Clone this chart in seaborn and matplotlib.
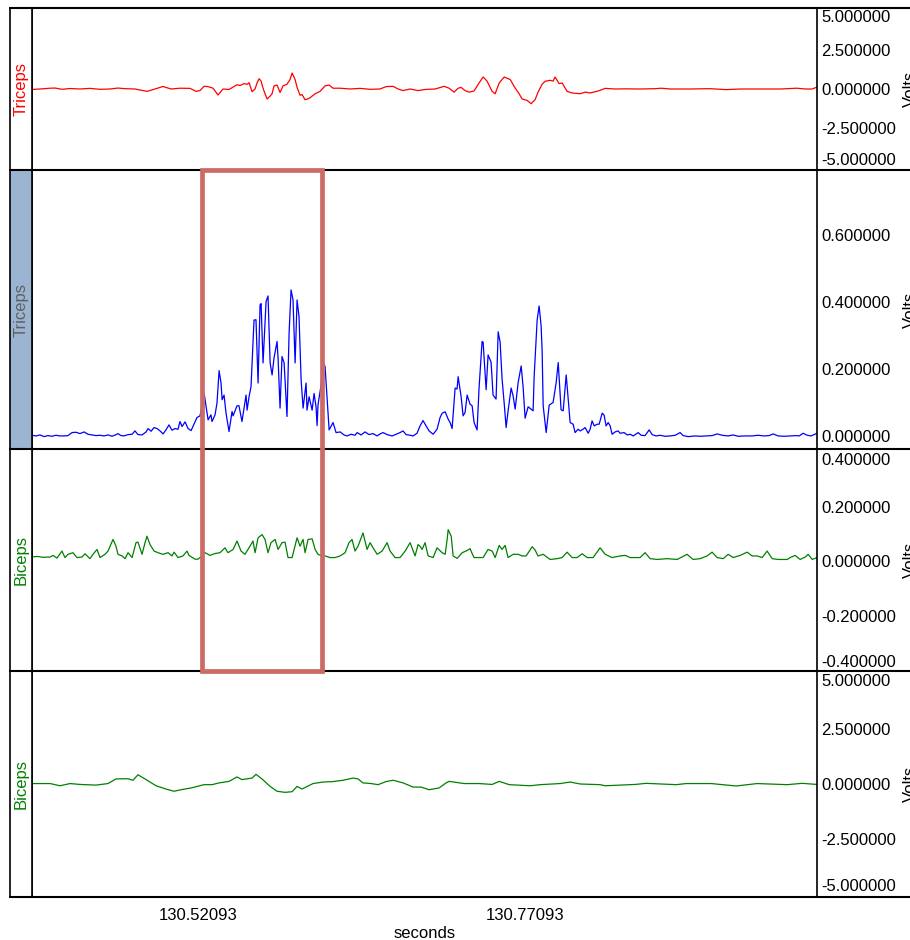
"""plot.py - four-channel EMG view (raw / envelope) with highlighted burst window"""
import pandas as pd
import seaborn as sns
import matplotlib.pyplot as plt
from matplotlib.lines import Line2D
from matplotlib.patches import Rectangle

# time window shown (seconds); samples below are ms offsets from T0
T0 = 130.39402
WINDOW = 0.6
x_ticks = [130.52093, 130.77093]
highlight_ms = [129.6, 221.3]

channel_names = ["Triceps", "Triceps", "Biceps", "Biceps"]

# (ms, volts) samples
triceps_raw = [
    (0.0, -0.03), (6.1, 0.0), (13.8, 0.05), (17.6, 0.06), (22.9, -0.02), (29.1, 0.03),
    (36.7, 0.0), (44.3, 0.04), (52.0, -0.02), (59.6, 0.0), (65.7, 0.06), (71.1, 0.02),
    (78.7, 0.0), (87.9, -0.15), (94.0, 0.0), (100.1, 0.16), (106.3, 0.0), (113.1, 0.05),
    (120.8, 0.04), (125.4, -0.15), (128.4, -0.10), (131.5, 0.17), (134.6, 0.15), (138.4, 0.05),
    (142.2, -0.38), (146.0, 0.0), (150.6, -0.03), (153.7, 0.12), (156.7, 0.27), (159.0, 0.22),
    (162.1, 0.34), (164.4, 0.30), (165.9, 0.40), (168.2, -0.17), (170.5, 0.0), (172.0, 0.38),
    (173.6, 0.65), (175.1, 0.50), (176.6, 0.05), (178.1, -0.30), (179.7, -0.63), (182.0, -0.45),
    (183.5, -0.30), (185.0, 0.20), (187.3, 0.25), (189.6, -0.22), (191.9, 0.20), (194.9, 0.30),
    (197.2, 0.60), (198.8, 1.01), (201.1, 0.60), (202.6, 0.10), (204.9, -0.40), (206.4, -0.35),
    (208.7, -0.68), (211.0, -0.62), (212.6, -0.55), (216.4, -0.30), (220.2, -0.15), (224.0, 0.20),
    (227.1, 0.25), (230.1, 0.05), (235.5, 0.05), (243.1, 0.0), (250.8, 0.04), (258.4, -0.02),
    (266.0, 0.0), (270.6, 0.15), (276.0, 0.17), (279.8, 0.0), (283.6, -0.10), (289.0, 0.0),
    (295.1, -0.10), (300.4, -0.03), (308.1, 0.0), (315.0, 0.17), (318.8, 0.05), (322.6, -0.20),
    (325.7, 0.05), (328.0, 0.10), (331.0, -0.10), (334.1, -0.20), (337.9, -0.12), (341.7, 0.38),
    (344.8, 0.76), (347.8, 0.50), (351.7, -0.15), (354.0, -0.30), (357.1, 0.38), (360.9, 0.76),
    (365.5, 0.60), (369.3, 0.06), (372.3, -0.30), (374.6, -0.63), (378.4, -0.72), (381.5, -0.93),
    (384.5, -0.68), (386.8, -0.20), (389.9, 0.30), (392.2, 0.49), (396.0, 0.55), (398.3, 0.50),
    (399.8, 0.76), (402.9, 0.34), (405.2, 0.38), (409.0, -0.15), (412.8, -0.25), (418.9, -0.30),
    (422.8, -0.20), (426.6, -0.25), (432.7, -0.13), (438.1, 0.04), (445.7, 0.0), (453.3, 0.01),
    (464.8, 0.0), (476.3, 0.02), (480.9, 0.05), (487.8, 0.0), (503.0, 0.0), (518.3, 0.02),
    (530.6, -0.04), (541.3, 0.0), (556.6, 0.0), (571.8, 0.0), (584.8, 0.05), (591.0, 0.0),
    (596.3, 0.0), (600.0, 0.12),
]

triceps_env = [
    (0.0, 0.002), (3.1, 0.0), (6.1, 0.003), (9.2, -0.002), (12.2, 0.001), (15.3, -0.001),
    (18.3, 0.002), (21.4, 0.0), (24.5, 0.0), (27.5, 0.001), (30.6, 0.010), (33.6, 0.011),
    (36.7, 0.007), (39.8, 0.012), (42.8, 0.005), (45.9, 0.003), (48.9, 0.001), (52.0, 0.002),
    (55.0, 0.0), (58.1, 0.003), (61.2, -0.001), (64.2, 0.004), (65.7, 0.007), (68.0, 0.001),
    (70.3, 0.0), (73.4, 0.004), (76.5, 0.005), (78.7, 0.015), (81.0, 0.004), (84.1, 0.003),
    (87.2, 0.012), (88.7, 0.022), (91.0, 0.014), (93.3, 0.025), (95.6, 0.022), (97.9, 0.015),
    (100.2, 0.006), (102.4, 0.018), (104.7, 0.033), (107.0, 0.017), (109.3, 0.022), (111.6, 0.020),
    (113.1, 0.043), (114.7, 0.028), (117.0, 0.042), (119.3, 0.022), (121.6, 0.016), (123.8, 0.035),
    (126.1, 0.055), (128.4, 0.060), (130.0, 0.090), (131.5, 0.128), (133.0, 0.090), (133.8, 0.068),
    (134.6, 0.048), (136.8, 0.063), (137.6, 0.043), (139.9, 0.063), (141.4, 0.098), (143.0, 0.195),
    (144.5, 0.158), (145.3, 0.108), (146.8, 0.122), (148.3, 0.068), (150.6, 0.013), (152.9, 0.073),
    (153.7, 0.060), (156.7, 0.090), (158.2, 0.090), (160.5, 0.043), (162.1, 0.083), (163.6, 0.122),
    (164.4, 0.077), (165.9, 0.117), (167.4, 0.147), (169.7, 0.346), (171.2, 0.347), (172.8, 0.158),
    (174.3, 0.391), (175.1, 0.395), (176.6, 0.218), (178.9, 0.401), (180.4, 0.418), (182.0, 0.218),
    (183.5, 0.182), (185.0, 0.233), (187.3, 0.282), (188.1, 0.230), (189.6, 0.083), (191.1, 0.237),
    (192.7, 0.218), (194.9, 0.058), (196.5, 0.307), (198.0, 0.436), (199.5, 0.406), (201.1, 0.218),
    (202.6, 0.406), (204.1, 0.356), (205.7, 0.167), (207.2, 0.083), (209.5, 0.158), (210.2, 0.077),
    (211.8, 0.117), (214.1, 0.077), (215.6, 0.127), (217.1, 0.087), (217.9, 0.031), (218.6, 0.093),
    (220.9, 0.150), (222.5, 0.220), (224.0, 0.207), (225.5, 0.117), (227.1, 0.018), (230.1, 0.040),
    (232.4, 0.010), (235.5, 0.012), (238.5, 0.003), (240.8, 0.0), (243.9, 0.005), (246.9, 0.002),
    (248.5, 0.010), (251.5, 0.003), (254.6, 0.012), (257.6, 0.004), (260.7, 0.007), (263.8, 0.0),
    (266.0, 0.006), (268.3, 0.010), (271.4, 0.004), (275.2, 0.0), (278.3, 0.005), (281.3, 0.010),
    (283.6, 0.015), (285.9, 0.004), (289.0, 0.002), (291.3, 0.0), (294.3, 0.008), (296.6, 0.030),
    (298.9, 0.046), (301.2, 0.030), (303.5, 0.015), (306.6, 0.005), (309.6, 0.020), (311.9, 0.055),
    (313.5, 0.068), (315.8, 0.072), (318.1, 0.050), (319.6, 0.040), (321.1, 0.022), (323.4, 0.143),
    (324.9, 0.140), (325.7, 0.177), (328.0, 0.117), (329.5, 0.060), (331.0, 0.070), (332.6, 0.122),
    (334.8, 0.095), (336.4, 0.090), (337.9, 0.040), (340.2, 0.018), (341.7, 0.143), (344.0, 0.282),
    (344.8, 0.280), (347.1, 0.138), (348.6, 0.242), (350.9, 0.220), (352.4, 0.122), (354.7, 0.110),
    (356.3, 0.311), (357.8, 0.280), (359.3, 0.170), (360.9, 0.098), (362.4, 0.025), (363.9, 0.075),
    (366.2, 0.143), (367.7, 0.120), (369.3, 0.080), (371.6, 0.160), (373.9, 0.209), (375.4, 0.145),
    (376.9, 0.053), (379.2, 0.087), (381.5, 0.080), (383.0, 0.075), (383.8, 0.177), (386.1, 0.346),
    (387.6, 0.388), (389.1, 0.330), (389.9, 0.257), (390.7, 0.090), (393.0, 0.010), (395.3, 0.092),
    (398.3, 0.100), (400.6, 0.158), (402.2, 0.219), (404.4, 0.078), (406.0, 0.075), (408.3, 0.182),
    (409.0, 0.150), (411.3, 0.040), (413.6, 0.035), (415.1, 0.010), (417.4, 0.020), (419.0, 0.015),
    (421.2, 0.020), (422.8, 0.025), (425.1, 0.008), (426.6, 0.020), (428.1, 0.045), (429.7, 0.030),
    (432.0, 0.035), (433.5, 0.035), (435.8, 0.068), (437.3, 0.062), (438.8, 0.030), (440.4, 0.040),
    (441.9, 0.030), (443.4, 0.005), (445.7, 0.012), (448.0, 0.015), (449.5, 0.008), (452.6, 0.010),
    (454.9, 0.003), (457.2, 0.005), (459.5, 0.0), (461.8, 0.006), (463.3, 0.010), (465.6, 0.002),
    (468.6, 0.001), (471.7, 0.018), (474.0, 0.004), (477.0, 0.0), (480.1, 0.002), (483.9, -0.001),
    (487.8, 0.0), (491.6, 0.002), (495.4, 0.010), (497.7, 0.001), (501.5, -0.002), (506.9, 0.0),
    (510.7, -0.001), (515.3, 0.0), (519.8, 0.001), (523.7, 0.006), (527.5, 0.002), (532.1, 0.0),
    (535.9, 0.003), (539.7, -0.001), (545.1, 0.0), (550.4, 0.0), (555.0, 0.002), (559.6, 0.0),
    (563.4, 0.001), (566.5, 0.006), (570.3, 0.0), (574.9, -0.001), (579.5, 0.0), (584.1, 0.001),
    (586.4, 0.0), (589.4, 0.008), (592.5, 0.002), (595.5, 0.0), (597.8, 0.004), (600.0, 0.008),
]

biceps_env = [
    (0.8, 0.017), (4.6, 0.018), (8.4, 0.015), (13.8, 0.016), (16.1, 0.022), (19.1, 0.012),
    (22.9, 0.038), (25.2, 0.014), (27.5, 0.026), (31.3, 0.032), (34.4, 0.014), (38.2, 0.016),
    (40.5, 0.028), (44.3, 0.010), (46.6, 0.026), (49.7, 0.044), (52.0, 0.014), (55.8, 0.026),
    (58.1, 0.038), (61.9, 0.081), (64.2, 0.056), (65.7, 0.026), (68.8, 0.020), (71.1, 0.010),
    (73.4, 0.032), (76.5, 0.014), (79.5, 0.069), (81.0, 0.071), (84.1, 0.026), (86.4, 0.069),
    (87.9, 0.093), (90.2, 0.062), (93.3, 0.038), (96.3, 0.032), (100.1, 0.026), (104.0, 0.032),
    (107.0, 0.020), (108.6, 0.034), (111.6, 0.014), (115.4, 0.020), (118.5, 0.038), (120.0, 0.022),
    (124.6, 0.008), (126.9, 0.008), (130.0, 0.020), (132.3, 0.032), (136.1, 0.022), (139.9, 0.029),
    (143.7, 0.032), (147.5, 0.050), (149.8, 0.032), (153.7, 0.044), (156.7, 0.075), (159.8, 0.038),
    (162.8, 0.026), (165.1, 0.044), (168.9, 0.075), (170.5, 0.032), (172.8, 0.087), (175.8, 0.099),
    (178.1, 0.081), (180.4, 0.032), (182.7, 0.069), (185.8, 0.081), (188.1, 0.044), (191.1, 0.069),
    (193.4, 0.071), (195.7, 0.014), (198.8, 0.014), (202.6, 0.087), (204.9, 0.056), (207.2, 0.081),
    (208.7, 0.032), (211.0, 0.081), (214.1, 0.083), (216.4, 0.044), (218.6, 0.026), (221.7, 0.020),
    (224.0, 0.020), (227.8, 0.014), (231.6, 0.014), (235.5, 0.020), (239.3, 0.032), (242.3, 0.069),
    (244.6, 0.081), (246.9, 0.038), (249.2, 0.056), (253.0, 0.105), (256.1, 0.044), (258.4, 0.069),
    (260.7, 0.050), (263.8, 0.026), (267.6, 0.038), (271.4, 0.069), (273.7, 0.038), (277.5, 0.014),
    (281.3, 0.014), (285.2, 0.038), (289.0, 0.069), (292.8, 0.020), (295.1, 0.062), (296.6, 0.056),
    (298.2, 0.044), (300.4, 0.069), (302.8, 0.020), (306.6, 0.014), (309.6, 0.050), (313.5, 0.032),
    (315.8, 0.026), (317.3, 0.081), (318.1, 0.117), (320.4, 0.093), (321.9, 0.020), (325.0, 0.011),
    (328.8, 0.032), (332.6, 0.040), (334.8, 0.047), (336.4, 0.029), (337.9, 0.014), (341.0, 0.014),
    (344.8, 0.014), (348.6, 0.044), (351.7, 0.038), (354.0, 0.014), (357.1, 0.059), (359.3, 0.044),
    (361.6, 0.059), (363.9, 0.014), (367.7, 0.026), (371.6, 0.026), (374.6, 0.020), (377.7, 0.020),
    (382.3, 0.054), (384.5, 0.042), (386.8, 0.020), (390.7, 0.026), (396.0, 0.007), (401.4, 0.010),
    (405.2, 0.014), (409.0, 0.034), (412.8, 0.014), (416.7, 0.014), (420.5, 0.028), (424.3, 0.014),
    (428.9, 0.014), (434.2, 0.050), (438.1, 0.026), (443.4, 0.014), (449.5, 0.020), (453.3, 0.022),
    (457.2, 0.014), (464.8, 0.014), (468.6, 0.032), (472.5, 0.010), (477.8, 0.007), (485.5, 0.010),
    (493.1, 0.007), (500.7, 0.026), (505.3, 0.007), (510.7, 0.010), (516.0, 0.020), (519.8, 0.034),
    (523.7, 0.014), (528.3, 0.010), (532.1, 0.026), (535.9, 0.014), (541.3, 0.022), (546.6, 0.034),
    (550.4, 0.020), (554.3, 0.020), (558.1, 0.014), (561.9, 0.038), (565.7, 0.010), (570.3, 0.007),
    (577.2, 0.007), (579.5, 0.014), (583.3, 0.022), (587.1, 0.007), (591.0, 0.016), (593.3, 0.026),
    (596.3, 0.007), (600.0, 0.014),
]

biceps_raw = [
    (0.0, 0.02), (13.8, 0.02), (21.4, -0.08), (29.1, 0.02), (36.7, -0.02), (48.9, -0.05),
    (58.1, 0.02), (64.2, 0.23), (73.4, 0.24), (77.2, 0.17), (81.0, 0.42), (87.2, 0.20),
    (94.8, -0.08), (102.4, -0.23), (108.6, -0.33), (113.9, -0.26), (121.6, -0.18), (131.5, -0.03),
    (137.6, -0.03), (143.0, 0.05), (150.6, 0.12), (156.7, 0.32), (160.5, 0.20), (168.2, 0.27),
    (171.2, 0.44), (175.8, 0.23), (182.0, -0.11), (187.3, -0.33), (193.4, -0.38), (198.8, -0.35),
    (202.6, -0.11), (206.4, -0.23), (214.8, 0.02), (222.5, 0.09), (230.1, 0.11), (237.8, 0.17),
    (245.4, 0.27), (249.2, 0.23), (253.0, 0.05), (259.2, 0.02), (264.5, -0.03), (270.6, 0.11),
    (276.0, 0.17), (283.6, 0.05), (291.3, -0.14), (297.4, -0.14), (303.5, -0.26), (311.1, -0.18),
    (316.5, 0.05), (318.8, 0.12), (330.3, 0.02), (341.7, 0.02), (351.7, -0.02), (357.1, 0.12),
    (364.7, -0.03), (380.7, -0.08), (388.4, -0.03), (403.7, 0.02), (411.3, 0.09), (419.0, 0.0),
    (434.2, -0.03), (438.1, -0.08), (461.0, -0.02), (469.4, 0.03), (492.3, -0.03), (500.0, 0.02),
    (519.1, 0.02), (538.2, -0.09), (554.3, 0.02), (577.2, -0.03), (588.7, 0.03), (600.0, -0.02),
]

y_limits = [(-5.13, 5.13), (-0.039, 0.794), (-0.405, 0.415), (-5.14, 5.14)]
y_ticks = [[-5, -2.5, 0, 2.5, 5], [0, 0.2, 0.4, 0.6],
           [-0.4, -0.2, 0, 0.2, 0.4], [-5, -2.5, 0, 2.5, 5]]

sns.set_theme(style="white")
plt.rcParams["font.family"] = ["Liberation Sans", "DejaVu Sans"]

W, H = 910, 940
fig = plt.figure(figsize=(W / 100, H / 100), dpi=100)

# panel layout in pixels
row_edges = [8, 170, 449, 671, 897]
strip_x0, plot_x0, plot_x1 = 10, 32, 817


def fx(px):
    return px / W


def fy(py):
    return 1 - py / H


traces = [triceps_raw, triceps_env, biceps_env, biceps_raw]
line_colors = ["#ff0000", "#0000ff", "#008000", "#008000"]
label_colors = ["#ff0000", "#606060", "#008000", "#008000"]
strip_fill = ["white", "#9bb4d2", "white", "white"]

axes = []
for i in range(4):
    top, bot = row_edges[i], row_edges[i + 1]
    ax = fig.add_axes([fx(plot_x0), fy(bot), fx(plot_x1 - plot_x0), (bot - top) / H])
    strip = fig.add_axes([fx(strip_x0), fy(bot), fx(plot_x0 - strip_x0), (bot - top) / H])

    df = pd.DataFrame(traces[i], columns=["ms", "volts"])
    df["seconds"] = T0 + df["ms"] / 1000
    sns.lineplot(data=df, x="seconds", y="volts", ax=ax, color=line_colors[i],
                 linewidth=0.9, estimator=None, sort=False)

    ax.set_xlim(T0, T0 + WINDOW)
    ax.set_ylim(*y_limits[i])
    ax.set_xlabel("")
    ax.set_ylabel("")
    ax.grid(False)
    ax.yaxis.tick_right()
    ax.set_yticks(y_ticks[i])
    ax.set_yticklabels([f"{v:.6f}" for v in y_ticks[i]])
    ax.tick_params(axis="y", length=0, pad=3, labelsize=12, colors="black")
    if i != 1:
        lbls = ax.get_yticklabels()
        lbls[-1].set_va("top")
        lbls[0].set_va("bottom")
    ax.set_xticks(x_ticks)
    if i == 3:
        ax.set_xticklabels([f"{v:.5f}" for v in x_ticks])
        ax.tick_params(axis="x", length=0, pad=8, labelsize=12, colors="black")
        ax.set_xlabel("seconds", fontsize=12, labelpad=2, color="black")
    else:
        ax.tick_params(axis="x", length=0, labelbottom=False)
    for sp in ax.spines.values():
        sp.set_color("black")
        sp.set_linewidth(1.2)

    strip.set_facecolor(strip_fill[i])
    strip.set_xticks([])
    strip.set_yticks([])
    for sp in strip.spines.values():
        sp.set_color("black")
        sp.set_linewidth(1.2)
    strip.text(0.5, 0.5, channel_names[i], rotation=90, ha="center", va="center",
               fontsize=12, color=label_colors[i], transform=strip.transAxes)

    fig.text(fx(903), fy((top + bot) / 2), "Volts", rotation=90, ha="left",
             va="center", fontsize=12, color="black")
    axes.append(ax)

# row separators run across the whole width, label column included
for y in row_edges:
    fig.add_artist(Line2D([fx(strip_x0), 1.0], [fy(y), fy(y)],
                          transform=fig.transFigure, color="black", linewidth=1.5))

# highlighted burst window spanning the two envelope panels
to_fig = fig.transFigure.inverted()
hx0 = to_fig.transform(axes[1].transData.transform((T0 + highlight_ms[0] / 1000, 0)))[0]
hx1 = to_fig.transform(axes[1].transData.transform((T0 + highlight_ms[1] / 1000, 0)))[0]
hy1 = axes[1].get_position().y1
hy0 = axes[2].get_position().y0
fig.add_artist(Rectangle((hx0, hy0), hx1 - hx0, hy1 - hy0, transform=fig.transFigure,
                         fill=False, edgecolor="#cd6a66", linewidth=3.4, zorder=10))

fig.savefig("out.png", dpi=100)
